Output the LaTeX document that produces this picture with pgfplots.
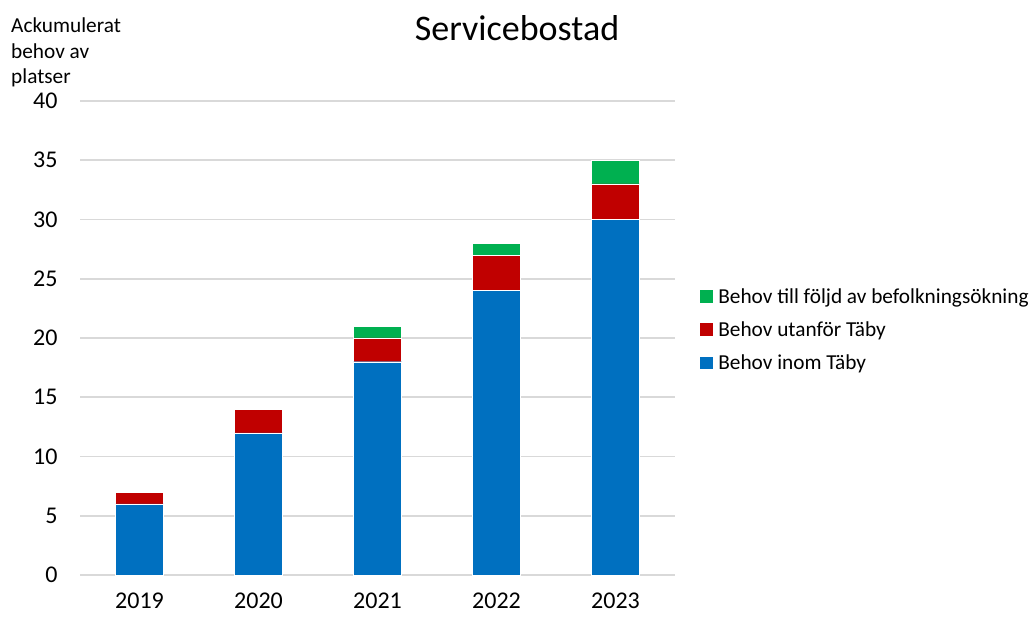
\documentclass[border=0pt]{standalone}
\usepackage{fontspec}
\setmainfont{Carlito}
\usepackage{pgfplots}
\pgfplotsset{compat=1.18}
\definecolor{cblue}{HTML}{0070C0}
\definecolor{cred}{HTML}{C00000}
\definecolor{cgreen}{HTML}{00B050}
\definecolor{cgrid}{HTML}{D9D9D9}
\begin{document}
\begin{tikzpicture}
\path[use as bounding box] (0,0) rectangle (1032pt,616pt);
\node[anchor=center, font=\fontsize{36}{40}\selectfont] at (517pt,588pt) {Servicebostad};
\node[anchor=north west, align=left, inner sep=0pt, font=\fontsize{21.3}{25.5}\selectfont] at (11pt,598pt) {Ackumulerat\\behov av\\platser};
\begin{axis}[
  at={(80pt,41pt)}, anchor=south west,
  scale only axis, width=595pt, height=474pt,
  ybar stacked, bar width=48pt,
  xmin=-0.5, xmax=4.5, ymin=0, ymax=40,
  xtick={0,1,2,3,4}, xticklabels={2019,2020,2021,2022,2023},
  ytick={0,5,10,15,20,25,30,35,40},
  axis line style={draw=none}, tick style={draw=none},
  ymajorgrids, grid style={cgrid, line width=1.8pt},
  /pgf/number format/assume math mode=true,
  ticklabel style={font=\fontsize{24}{28}\selectfont},
  yticklabel style={xshift=-19pt},
  xticklabel style={yshift=-17pt, text depth=0pt, inner ysep=1pt},
  legend style={at={(1.037,0.517)}, anchor=west, draw=none, fill=none,
    font=\fontsize{21.3}{24}\selectfont, row sep=15pt,
    nodes={inner sep=1pt}},
  legend cell align=left,
  reverse legend,
  legend image code/.code={\fill[#1, draw=none] (0pt,-6pt) rectangle (12.5pt,6.5pt); \path (17pt,0pt);},
]
\addplot[fill=cblue, draw=white, line width=0.3pt] coordinates {(0,6) (1,12) (2,18) (3,24) (4,30)};
\addplot[fill=cred, draw=white, line width=0.3pt] coordinates {(0,1) (1,2) (2,2) (3,3) (4,3)};
\addplot[fill=cgreen, draw=white, line width=0.3pt] coordinates {(0,0) (1,0) (2,1) (3,1) (4,2)};
\legend{Behov inom Täby, Behov utanför Täby, Behov till följd av befolkningsökning}
\end{axis}
\end{tikzpicture}
\end{document}
